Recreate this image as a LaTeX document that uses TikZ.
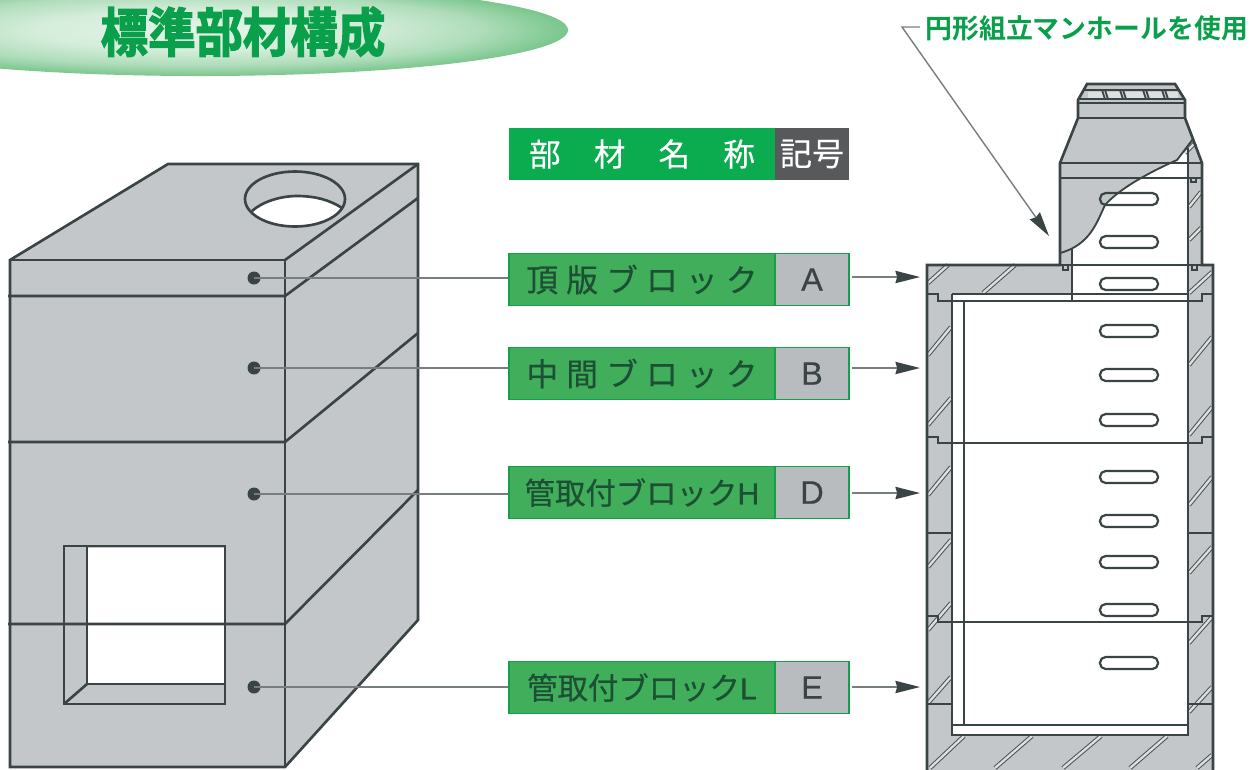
\documentclass[tikz,border=0pt]{standalone}
\usepackage{fontspec}
\usetikzlibrary{arrows.meta,shadings}
\newfontfamily\jpreg[FakeBold=0.5]{Noto Sans CJK JP}
\newfontfamily\jphead[FakeBold=0.3]{Noto Sans CJK JP}
\newfontfamily\jpbold{Noto Sans CJK JP Bold}
\newfontfamily\jptitle[FakeBold=2.5,FakeStretch=0.9]{Noto Sans CJK JP Bold}
\newfontfamily\latinsans[FakeBold=0.4]{Liberation Sans}
\definecolor{ink}{HTML}{3A4445}
\definecolor{concrete}{HTML}{C3C7C9}
\definecolor{leadline}{HTML}{777E7F}
\definecolor{headgreen}{HTML}{0BAB4F}
\definecolor{headgray}{HTML}{58595B}
\definecolor{rowgreen}{HTML}{41AE5C}
\definecolor{rowedge}{HTML}{12A04B}
\definecolor{rowgray}{HTML}{B9BCBF}
\definecolor{rowtext}{HTML}{1C4F34}
\definecolor{titlegreen}{HTML}{0AA04B}
\definecolor{hatchgap}{HTML}{DDE0E0}
\pgfdeclareradialshading{titleglow}{\pgfpoint{0bp}{0bp}}{
  color(0bp)=(white!86!rowgreen);
  color(11bp)=(white!78!rowgreen);
  color(19bp)=(white!58!rowgreen);
  color(25bp)=(white!30!rowgreen);
  color(100bp)=(white!30!rowgreen)}
\tikzset{
  outline/.style={draw=ink,line width=1.5pt,line join=miter},
  thinoutline/.style={draw=ink,line width=1.05pt},
  dotmark/.style={circle,fill=ink,minimum size=.26cm,inner sep=0pt},
  leader/.style={draw=leadline,line width=.8pt},
  pointer/.style={leader,shorten <=1.5pt,-{Stealth[length=14pt,width=7pt,inset=1pt,color=ink]}},
  namecell/.style={minimum width=5.32cm,minimum height=1.04cm,inner sep=0pt,fill=rowgreen,draw=rowedge,line width=.9pt,text=rowtext},
  symcell/.style={minimum width=1.48cm,minimum height=1.04cm,inner sep=0pt,fill=rowgray,draw=rowedge,line width=.9pt,text=ink,font=\latinsans\fontsize{18.5}{18.5}\selectfont},
  headname/.style={minimum width=5.32cm,minimum height=1.04cm,inner sep=0pt,fill=headgreen,text=white},
  headsym/.style={minimum width=1.48cm,minimum height=1.04cm,inner sep=0pt,fill=headgray,text=white},
  rung/.style={draw=ink,line width=1.25pt,rounded corners=3.2pt},
  hatching/.style={draw=ink!90,line width=.6pt,double=hatchgap,double distance=1.3pt},
}
\newcommand{\rungat}[1]{\draw[rung] (1100,#1-6) rectangle (1158,#1+6);}
\newcommand{\hatchseg}[4]{\draw[hatching] (#1,#2) -- (#3,#4);}
\begin{document}
\begin{tikzpicture}[x=0.02cm,y=-0.02cm]
\useasboundingbox (0,0) rectangle (1260,769);
\clip (0,0) rectangle (1260,769);
\fill[white] (0,0) rectangle (1260,769);
% title ellipse
\begin{scope}
\clip (200,30) ellipse [x radius=368,y radius=46];
\shade[shading=titleglow] (-168,-16) rectangle (568,76);
\end{scope}
\node[text=titlegreen,inner sep=0pt,font=\jptitle\fontsize{30}{30}\selectfont] (title) at (243,32) {標準部材構成};
% left block
\fill[concrete] (10,260) -- (168,164) -- (418,164) -- (418,620) -- (285,767) -- (10,767) -- cycle;
\draw[outline] (10,260) -- (168,164) -- (418,164) -- (418,620) -- (285,767) -- (10,767) -- cycle;
\draw[outline] (10,260) -- (285,260) -- (285,767);
\draw[outline] (285,260) -- (418,164);
\draw[outline] (8,296) -- (285,296) -- (418,198);
\draw[outline] (8,442) -- (285,442) -- (418,333);
% hole
\fill[white] (252,211) .. controls (262,202) and (280,196) .. (297,196) .. controls (315,196) and (330,200) .. (342,208) .. controls (330,222) and (312,227) .. (295,227) .. controls (275,227) and (260,221) .. (252,211) -- cycle;
\draw[outline] (295,199) ellipse [x radius=50,y radius=27.5];
\draw[outline] (252,211) .. controls (262,202) and (280,196) .. (297,196) .. controls (315,196) and (330,200) .. (342,208);
% window
\fill[white] (87,548) rectangle (224,684);
\draw[outline] (64,546) rectangle (225,704);
\draw[outline] (87,546) -- (87,684) -- (224,684);
\draw[outline] (64,704) -- (87,684);
\draw[outline] (8,624) -- (285,624) -- (418,490);
% right section: bodies
\fill[concrete] (927,265) rectangle (1213,775);
\fill[concrete] (1060,265) -- (1060,163) -- (1078,118) -- (1078,100) -- (1087,84) -- (1175,84) -- (1185,100) -- (1185,118) -- (1202,163) -- (1202,265) -- cycle;
\fill[white] (1072,248) .. controls (1090,240) and (1097,222) .. (1105,205) .. controls (1120,188) and (1150,172) .. (1177,160) -- (1188,148) -- (1188,294) -- (1072,294) -- cycle;
\fill[white] (952,294) rectangle (1188,735);
% hatching
\hatchseg{928}{283}{948}{265}
\hatchseg{983}{293}{1015}{265}
\hatchseg{1189}{293}{1212}{272}
\hatchseg{1185}{153}{1195}{143}
\hatchseg{1189}{207}{1201}{192}
\hatchseg{1189}{240}{1201}{228}
\hatchseg{928}{355}{951}{327}
\hatchseg{928}{425}{951}{398}
\hatchseg{928}{495}{951}{467}
\hatchseg{928}{567}{951}{540}
\hatchseg{928}{630}{951}{603}
\hatchseg{928}{703}{951}{677}
\hatchseg{1189}{365}{1212}{337}
\hatchseg{1189}{435}{1212}{407}
\hatchseg{1189}{505}{1212}{477}
\hatchseg{1189}{573}{1212}{547}
\hatchseg{1189}{643}{1212}{617}
\hatchseg{1189}{712}{1212}{687}
\hatchseg{930}{768}{964}{736}
\hatchseg{995}{768}{1032}{736}
\hatchseg{1063}{768}{1101}{736}
\hatchseg{1130}{768}{1167}{736}
\hatchseg{1197}{768}{1212}{755}
% cover slots
\fill[hatchgap] (1088,92) rectangle (1178,98);
% section outlines
\draw[outline] (927,775) -- (927,265) -- (1060,265) -- (1060,163) -- (1078,118) -- (1078,100) -- (1087,84) -- (1175,84) -- (1185,100) -- (1185,118) -- (1202,163) -- (1202,265) -- (1213,265) -- (1213,775);
\draw[thinoutline] (1078,118) -- (1185,118);
\draw[thinoutline] (1078,99) -- (1185,99);
\draw[thinoutline] (1078,103) -- (1185,103);
\draw[thinoutline] (1084,90) -- (1178,90);
\draw[thinoutline] (1060,163) -- (1202,163);
\draw[thinoutline] (1060,178) -- (1202,178);
\draw[thinoutline] (1060,265) -- (1202,265);
\draw[thinoutline] (1072,248) -- (1072,301);
\draw[thinoutline] (1188,148) -- (1188,301);
\draw[thinoutline] (1060,253) .. controls (1090,245) and (1097,222) .. (1105,205) .. controls (1120,188) and (1150,172) .. (1177,160) -- (1193,139);
\foreach \slotx in {1102,1120,1143,1162} \draw[thinoutline] (\slotx,90) -- (\slotx+3,99);
\foreach \slotx in {1105,1123,1146,1165} \draw[thinoutline] (\slotx,90) -- (\slotx+3,99);
% small ticks at shaft foot
\draw[thinoutline] (1063,265) -- (1063,270) -- (1068,270) -- (1068,265);
\draw[thinoutline] (1192,265) -- (1192,270) -- (1197,270) -- (1197,265);
\draw[thinoutline] (1191,178) -- (1191,182) -- (1196,182) -- (1196,178);
% joints
\draw[thinoutline] (927,294) -- (938,294) -- (938,301) -- (1202,301) -- (1202,294) -- (1213,294);
\draw[thinoutline] (952,294) -- (1188,294);
\draw[thinoutline] (927,437) -- (938,437) -- (938,443) -- (1202,443) -- (1202,437) -- (1213,437);
\draw[thinoutline] (927,533) -- (952,533);
\draw[thinoutline] (1188,533) -- (1213,533);
\draw[thinoutline] (927,616) -- (938,616) -- (938,622) -- (1202,622) -- (1202,616) -- (1213,616);
\draw[thinoutline] (927,704) -- (952,704);
\draw[thinoutline] (1188,704) -- (1213,704);
\draw[thinoutline] (952,294) -- (952,735) -- (1188,735) -- (1188,294);
\draw[thinoutline] (964,301) -- (964,725);
\draw[thinoutline] (952,725) -- (1188,725);
% rungs
\rungat{199}\rungat{242}\rungat{284}\rungat{331}\rungat{375}\rungat{420}\rungat{477}\rungat{521}\rungat{562}\rungat{610}\rungat{663}
% table header
\node[headname,font=\jphead\fontsize{18}{18}\selectfont] (headName) at (642,154) {部\hspace{18.85pt}材\hspace{18.85pt}名\hspace{18.85pt}称};
\node[headsym,font=\jphead\fontsize{18.3}{18.3}\selectfont] (headSym) at (812,154) {記号\hspace{2.5pt}};
% rows
\node[namecell,font=\jpreg\fontsize{18}{18}\selectfont] (nameA) at (642,279.5) {頂\hspace{4.7pt}版\hspace{4.7pt}ブ\hspace{4.7pt}ロ\hspace{4.7pt}ッ\hspace{4.7pt}ク};
\node[symcell] (symA) at (812,279.5) {A};
\node[namecell,font=\jpreg\fontsize{18}{18}\selectfont] (nameB) at (642,373.5) {中\hspace{4.7pt}間\hspace{4.7pt}ブ\hspace{4.7pt}ロ\hspace{4.7pt}ッ\hspace{4.7pt}ク};
\node[symcell] (symB) at (812,373.5) {B};
\node[namecell,font=\jpreg\fontsize{17.3}{18}\selectfont] (nameD) at (642,492.5) {管取付ブロック{\latinsans H}};
\node[symcell] (symD) at (812,492.5) {D};
\node[namecell,font=\jpreg\fontsize{17.3}{18}\selectfont] (nameE) at (642,687.5) {管取付ブロック{\latinsans L}};
\node[symcell] (symE) at (812,687.5) {E};
% dots and connectors
\node[dotmark] (dotA) at (254,278) {};
\node[dotmark] (dotB) at (254,368) {};
\node[dotmark] (dotD) at (254,494) {};
\node[dotmark] (dotE) at (254,687) {};
\draw[leader] (dotA.center) -- (nameA.west |- dotA.center);
\draw[leader] (dotB.center) -- (nameB.west |- dotB.center);
\draw[leader] (dotD.center) -- (nameD.west |- dotD.center);
\draw[leader] (dotE.center) -- (nameE.west |- dotE.center);
\coordinate (targetA) at (920,277);
\coordinate (targetB) at (920,368);
\coordinate (targetD) at (920,493);
\coordinate (targetE) at (920,687);
\draw[pointer] (symA.east |- targetA) -- (targetA);
\draw[pointer] (symB.east |- targetB) -- (targetB);
\draw[pointer] (symD.east |- targetD) -- (targetD);
\draw[pointer] (symE.east |- targetE) -- (targetE);
% top right note
\node[text=titlegreen,inner sep=0pt,anchor=west,font=\jpbold\fontsize{15.3}{16}\selectfont] (note) at (925,28) {円形組立マンホールを使用};
\coordinate (noteBend) at (902,27);
\coordinate (noteTip) at (1049,236);
\draw[leader,-{Stealth[length=14pt,width=7pt,inset=1pt,color=ink]}] (note.west |- noteBend) ++(-5,0) -- (noteBend) -- (noteTip);
\end{tikzpicture}
\end{document}
